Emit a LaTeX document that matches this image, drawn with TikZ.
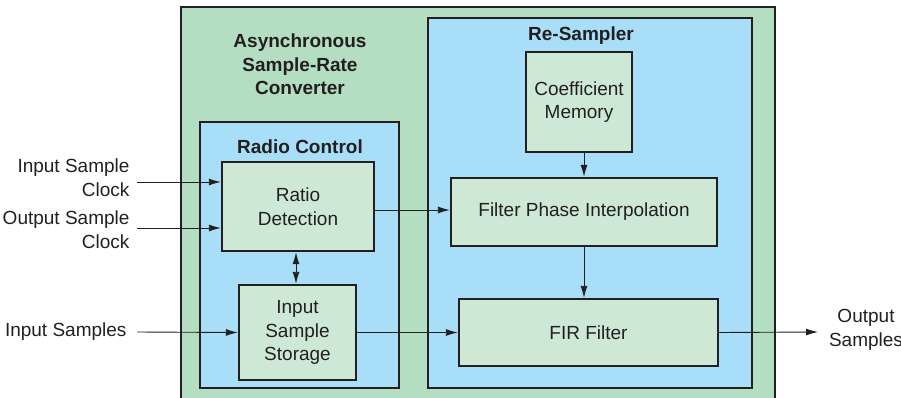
\documentclass[tikz,border=0pt]{standalone}
\usepackage{fontspec}
\setmainfont{Liberation Sans}
\usetikzlibrary{arrows.meta}
\definecolor{asrcgreen}{RGB}{179,222,193}
\definecolor{panelblue}{RGB}{169,222,249}
\definecolor{blockgreen}{RGB}{205,232,213}
\definecolor{ink}{RGB}{35,31,32}
\tikzset{
  txt/.style={text=ink, font=\fontsize{19}{23.5}\selectfont},
  frame/.style={draw=ink, line width=2.4pt},
  block/.style={frame, fill=blockgreen, align=center, txt, inner sep=0pt},
  title/.style={align=center, text=ink, font=\bfseries\fontsize{19}{23.5}\selectfont},
  label/.style={align=right, txt, anchor=east},
  flow/.style={draw=ink, line width=0.9pt, -{Latex[length=12pt,width=7pt]}},
  biflow/.style={draw=ink, line width=0.9pt, {Latex[length=12pt,width=7pt]}-{Latex[length=12pt,width=7pt]}}
}
\begin{document}
\begin{tikzpicture}[x=1pt,y=-1pt]
\useasboundingbox (0,0) rectangle (901,398);
\begin{scope}
\clip (0,0) rectangle (901,398);
% enclosing converter and its two panels
\draw[frame, fill=asrcgreen] (181,7) rectangle (775,410);
\draw[frame, fill=panelblue] (200,122) rectangle (399,388);
\draw[frame, fill=panelblue] (428,18) rectangle (752,388);
\end{scope}
\node[title] (asrc) at (300,64.5) {Asynchronous\\Sample-Rate\\Converter};
\node[title] (rc) at (300,147) {Radio Control};
\node[title] (rs) at (581,36) {Re-Sampler};
% processing blocks
\node[block, minimum width=152pt, minimum height=89pt] (ratio) at (298,206.5) {Ratio\\Detection};
\node[block, minimum width=117pt, minimum height=95pt] (store) at (297.5,332.5) {Input\\Sample\\Storage};
\node[block, minimum width=106pt, minimum height=100pt] (coef) at (579,102) {Coefficient\\Memory};
\node[block, minimum width=266pt, minimum height=68pt] (fpi) at (584,212) {Filter Phase Interpolation};
\node[block, minimum width=259pt, minimum height=67pt] (fir) at (588.5,332.5) {FIR Filter};
% external signals
\coordinate (isc) at (137,182);
\coordinate (osc) at (137,228);
\coordinate (ins) at (137,332);
\coordinate (outs) at (818,332);
\node[label] (isclab) at (133,177.5) {Input Sample\\Clock};
\node[label] (osclab) at (133,229.5) {Output Sample\\Clock};
\node[label] (inslab) at (130,332) {Input Samples};
\node[align=center, txt] (outlab) at (866,330) {Output\\Samples};
% connectors
\draw[flow] (isc) -- (isc -| ratio.west);
\draw[flow] (osc) -- (osc -| ratio.west);
\draw[flow] (ins) -- (store.west);
\draw[biflow] (ratio.south -| 296,0) -- (store.north -| 296,0);
\draw[flow] (ratio.east |- 0,210) -- (fpi.west |- 0,210);
\draw[flow] (store.east) -- (fir.west |- store.east);
\draw[flow] (coef.south -| 584,0) -- (fpi.north -| 584,0);
\draw[flow] (fpi.south -| 584,0) -- (fir.north -| 584,0);
\draw[flow] (fir.east) -- (outs);
\end{tikzpicture}
\end{document}
